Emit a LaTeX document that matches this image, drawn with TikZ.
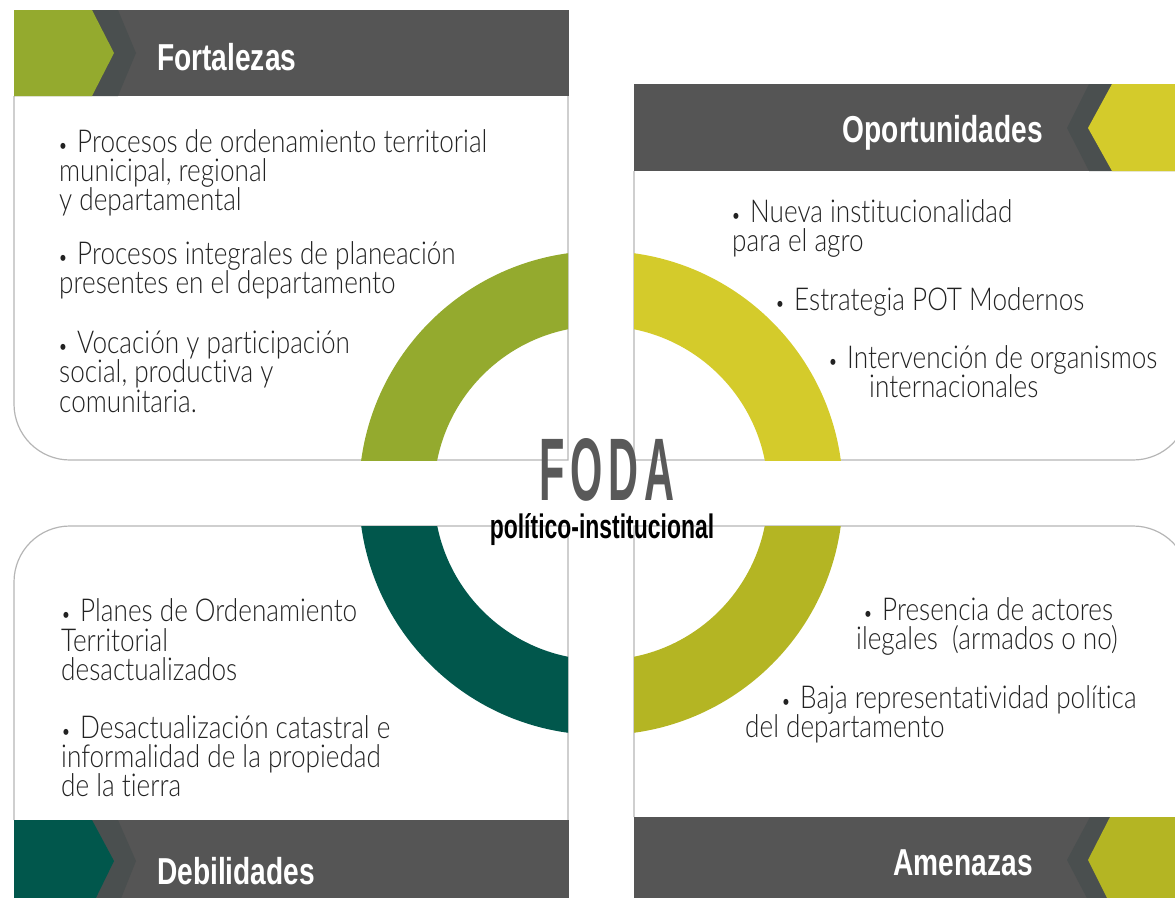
\documentclass[tikz,border=0pt]{standalone}
\usepackage{fontspec}
\usepackage{graphicx}
\newfontfamily\bodyfont{Lato Light}[Ligatures=NoCommon]
\newfontfamily\headfont{Liberation Sans}
\definecolor{hgray}{HTML}{555555}
\definecolor{hshadow}{HTML}{4A4F4F}
\definecolor{cgreen}{HTML}{94AA2E}
\definecolor{cyellow}{HTML}{D4CB2B}
\definecolor{colive}{HTML}{B4B523}
\definecolor{cteal}{HTML}{01574C}
\definecolor{bline}{HTML}{B5B5B5}
\definecolor{tcol}{HTML}{222222}
\definecolor{fodacol}{HTML}{595959}
\newcommand\bt[1]{\scalebox{0.83}[1]{#1}}
\newcommand\hs[1]{\scalebox{0.75}[1]{#1}}
\newcommand\bu{\scalebox{0.65}{•}\hspace{0.35em}}
\tikzset{
  txt/.style={anchor=base west, inner sep=0pt, text=tcol, font=\bodyfont\fontsize{31.5}{31.5}\selectfont},
  head/.style={inner sep=0pt, text=white, font=\headfont\bfseries\fontsize{37.5}{37.5}\selectfont},
  boxline/.style={draw=bline, line width=1.2pt}
}
\begin{document}
\begin{tikzpicture}[x=1pt,y=-1pt]
\useasboundingbox (0,0) rectangle (1175,897);
\clip (0,0) rectangle (1175,897);
% body boxes
\draw[boxline] (568,96) -- (568,460) -- (70,460) .. controls (39,460) and (14,435) .. (14,404) -- (14,96);
\draw[boxline] (634,171) -- (634,460) -- (1133,460) .. controls (1164,460) and (1189,435) .. (1189,404) -- (1189,171);
\draw[boxline] (568,820) -- (568,526) -- (70,526) .. controls (39,526) and (14,551) .. (14,582) -- (14,820);
\draw[boxline] (634,817) -- (634,526) -- (1133,526) .. controls (1164,526) and (1189,551) .. (1189,582) -- (1189,817);
% ring quadrants
\coordinate (c) at (601,493);
\begin{scope}
\clip (0,0) rectangle (568,460);
\fill[cgreen, even odd rule] (c) circle (242pt) (c) circle (167pt);
\end{scope}
\begin{scope}
\clip (634,0) rectangle (1175,460);
\fill[cyellow, even odd rule] (c) circle (242pt) (c) circle (167pt);
\end{scope}
\begin{scope}
\clip (0,526) rectangle (568,897);
\fill[cteal, even odd rule] (c) circle (242pt) (c) circle (167pt);
\end{scope}
\begin{scope}
\clip (634,526) rectangle (1175,897);
\fill[colive, even odd rule] (c) circle (242pt) (c) circle (167pt);
\end{scope}
% headers
\fill[hgray] (14,10) rectangle (569,96);
\fill[hshadow] (14,10) -- (118,10) -- (136,53) -- (118,96) -- (14,96) -- cycle;
\fill[cgreen] (14,10) -- (92,10) -- (114,53) -- (92,96) -- (14,96) -- cycle;
\fill[hgray] (634,84) rectangle (1175,171);
\fill[hshadow] (1175,84) -- (1089,84) -- (1067,128) -- (1089,171) -- (1175,171) -- cycle;
\fill[cyellow] (1175,84) -- (1112,84) -- (1088,128) -- (1112,171) -- (1175,171) -- cycle;
\fill[hgray] (14,820) rectangle (569,906);
\fill[hshadow] (14,820) -- (118,820) -- (136,861) -- (118,906) -- (14,906) -- cycle;
\fill[cteal] (14,820) -- (92,820) -- (114,861) -- (92,906) -- (14,906) -- cycle;
\fill[hgray] (634,817) rectangle (1175,904);
\fill[hshadow] (1175,817) -- (1090,817) -- (1067,860) -- (1090,904) -- (1175,904) -- cycle;
\fill[colive] (1175,817) -- (1110,817) -- (1088,860) -- (1110,904) -- (1175,904) -- cycle;
\node[head, anchor=base west] (hF) at (157,70) {\hs{Fortalezas}};
\node[head, anchor=base east] (hO) at (1043,142) {\hs{Oportunidades}};
\node[head, anchor=base west] (hD) at (157,884) {\hs{Debilidades}};
\node[head, anchor=base east] (hA) at (1033,875) {\hs{Amenazas}};
% center
\node[inner sep=0pt, anchor=base, text=fodacol] (foda) at (607,500) {\resizebox{135pt}{62pt}{\headfont\bfseries F\hspace{0.14em}O\hspace{0.14em}D\hspace{0.14em}A}};
\node[inner sep=0pt, anchor=base, text=black] (pi) at (602,538) {\scalebox{0.675}[1]{\headfont\bfseries\fontsize{34}{34}\selectfont político-institucional}};
% Fortalezas text
\node[txt] (f1) at (58,152) {\bt{\bu Procesos de ordenamiento territorial}};
\node[txt] (f2) at (59,181) {\bt{municipal, regional}};
\node[txt] (f3) at (59,210) {\bt{y departamental}};
\node[txt] (f4) at (58,264) {\bt{\bu Procesos integrales de planeación}};
\node[txt] (f5) at (59,293) {\bt{presentes en el departamento}};
\node[txt] (f6) at (58,353) {\bt{\bu Vocación y participación}};
\node[txt] (f7) at (59,382) {\bt{social, productiva y}};
\node[txt] (f8) at (59,412) {\bt{comunitaria.}};
% Oportunidades text
\node[txt] (o1) at (731,222) {\bt{\bu Nueva institucionalidad}};
\node[txt] (o2) at (732,251) {\bt{para el agro}};
\node[txt] (o3) at (775,310) {\bt{\bu Estrategia POT Modernos}};
\node[txt] (o4) at (828,368) {\bt{\bu Intervención de organismos}};
\node[txt] (o5) at (869,397) {\bt{internacionales}};
% Debilidades text
\node[txt] (d1) at (61,621) {\bt{\bu Planes de Ordenamiento}};
\node[txt] (d2) at (61,651) {\bt{Territorial}};
\node[txt] (d3) at (61,680) {\bt{desactualizados}};
\node[txt] (d4) at (61,738) {\bt{\bu Desactualización catastral e}};
\node[txt] (d5) at (61,767) {\bt{informalidad de la propiedad}};
\node[txt] (d6) at (61,796) {\bt{de la tierra}};
% Amenazas text
\node[txt] (a1) at (863,620) {\bt{\bu Presencia de actores}};
\node[txt] (a2) at (856,649) {\bt{ilegales\ \ (armados o no)}};
\node[txt] (a3) at (781,708) {\bt{\bu Baja representatividad política}};
\node[txt] (a4) at (745,737) {\bt{del departamento}};
\end{tikzpicture}
\end{document}
